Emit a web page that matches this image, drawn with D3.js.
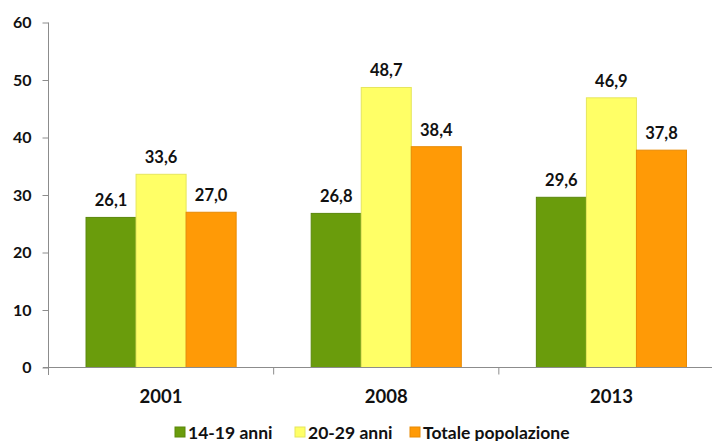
<!DOCTYPE html>
<html><head><meta charset="utf-8">
<script src="https://cdn.jsdelivr.net/npm/d3@7"></script>
<style>
html,body{margin:0;padding:0;background:#fff;}
svg{display:block;font-family:Lato,"Liberation Sans",Arial,sans-serif;}
</style></head>
<body>
<svg id="chart" width="712" height="441"></svg>
<script>
const categories = ["2001", "2008", "2013"];
const seriesNames = ["14-19 anni", "20-29 anni", "Totale popolazione"];
const s1419 = [26.1, 26.8, 29.6];
const s2029 = [33.6, 48.7, 46.9];
const sTot = [27.0, 38.4, 37.8];
const yTicks = [0, 10, 20, 30, 40, 50, 60];
const colors = ["#6a9c0c", "#ffff66", "#ff9a06"];
const strokes = ["#5a880a", "#e6e65c", "#e88a05"];

const seriesValues = [s1419, s2029, sTot];
const svg = d3.select("#chart");
const fmt = d3.formatLocale({decimal: ",", thousands: ".", grouping: [3], currency: ["", "€"]}).format(".1f");

const y = d3.scaleLinear().domain([0, 60]).range([367.5, 22.5]);
const x0 = d3.scaleBand().domain(categories).range([48.5, 724]).paddingInner(0).paddingOuter(0);
const x1 = d3.scaleBand().domain(seriesNames).range([0, x0.bandwidth()]).paddingInner(0).paddingOuter(0.75);

// bars
const groups = svg.selectAll("g.cat").data(categories).enter().append("g")
  .attr("transform", d => `translate(${x0(d)},0)`);
seriesNames.forEach((s, si) => {
  groups.append("rect")
    .attr("x", (d, i) => x1(s))
    .attr("y", (d, i) => y(seriesValues[si][i]))
    .attr("width", x1.bandwidth())
    .attr("height", (d, i) => y(0) - y(seriesValues[si][i]))
    .attr("fill", colors[si])
    .attr("stroke", strokes[si])
    .attr("stroke-width", 1);
  groups.append("text")
    .attr("x", x1(s) + x1.bandwidth() / 2)
    .attr("y", (d, i) => y(seriesValues[si][i]) - 11)
    .attr("text-anchor", "middle")
    .attr("font-size", 16.5)
    .attr("font-weight", "bold")
    .attr("fill", "#111")
    .text((d, i) => fmt(seriesValues[si][i]));
});

// y axis
const yAxis = d3.axisLeft(y).tickValues(yTicks).tickSize(6).tickPadding(11);
const yg = svg.append("g").attr("transform", "translate(48.5,0)").call(yAxis);
yg.select(".domain").attr("stroke", "#8c8c8c").attr("d", "M0,22.5V375");
yg.selectAll(".tick line").attr("stroke", "#8c8c8c");
yg.selectAll(".tick text").attr("font-size", 16).attr("font-weight", "bold").attr("fill", "#111")
  .attr("font-family", "Lato, 'Liberation Sans', Arial, sans-serif");

// x axis
const xg = svg.append("g").attr("transform", `translate(0,${y(0)})`);
xg.append("line").attr("x1", 43).attr("x2", 724).attr("y1", 0).attr("y2", 0).attr("stroke", "#8c8c8c");
xg.selectAll("line.tk").data(categories).enter().append("line")
  .attr("x1", d => x0(d)).attr("x2", d => x0(d)).attr("y1", 0).attr("y2", 7).attr("stroke", "#8c8c8c");
xg.selectAll("text").data(categories).enter().append("text")
  .attr("x", d => x0(d) + x0.bandwidth() / 2)
  .attr("y", 35.5)
  .attr("text-anchor", "middle")
  .attr("font-size", 18.5)
  .attr("font-weight", "bold")
  .attr("fill", "#111")
  .text(d => d);

// legend
const legendX = [175, 295, 410];
const lg = svg.append("g");
seriesNames.forEach((s, i) => {
  lg.append("rect").attr("x", legendX[i]).attr("y", 427).attr("width", 10).attr("height", 10)
    .attr("fill", colors[i]).attr("stroke", strokes[i]);
  lg.append("text").attr("x", legendX[i] + 13).attr("y", 438.5).attr("font-size", 17.5)
    .attr("font-weight", "bold").attr("fill", "#111").text(s);
});
</script>
</body></html>
